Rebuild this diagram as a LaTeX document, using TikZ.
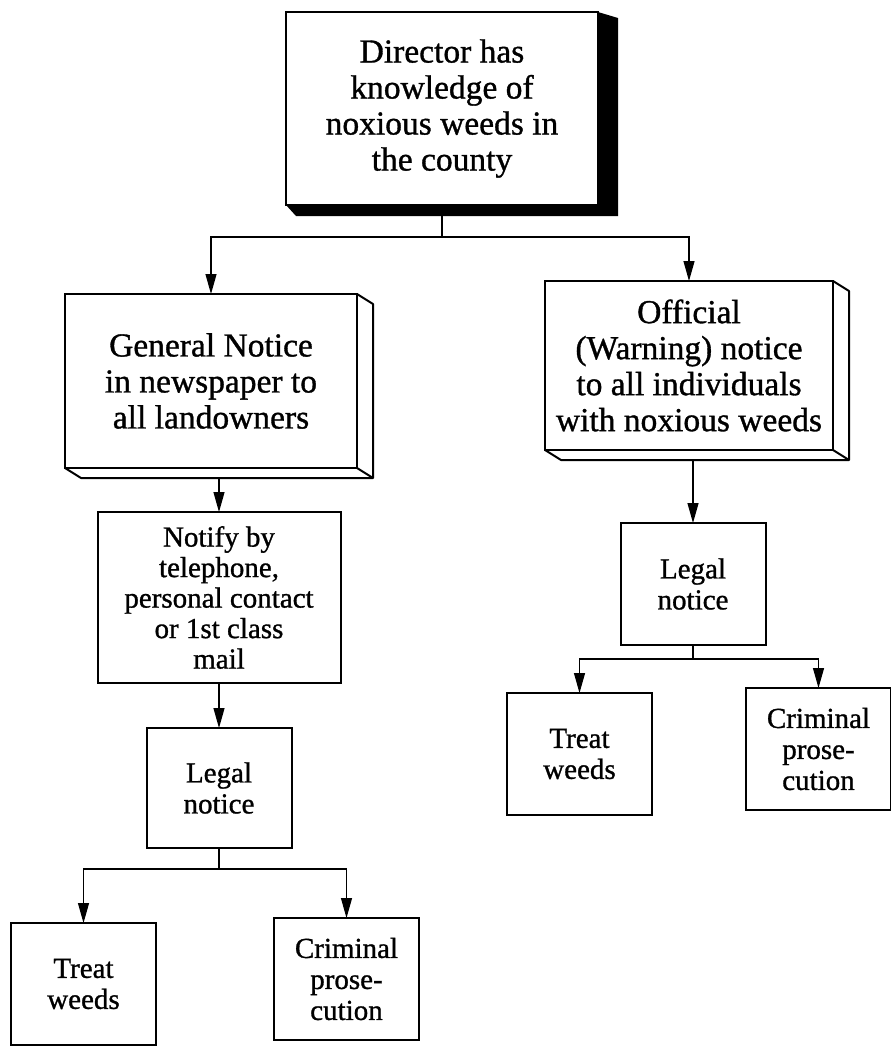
\documentclass[tikz,border=0pt]{standalone}
\usepackage{fontspec}
\setmainfont{Liberation Serif}[FakeBold=1]
\usetikzlibrary{arrows.meta}

\begin{document}
\begin{tikzpicture}[x=1pt,y=1pt,
      every node/.style={draw,line width=2pt,anchor=north,align=center,inner sep=0pt,outer sep=0pt},
      bigbox/.style={font=\fontsize{33.5}{36}\selectfont},
      smallbox/.style={font=\fontsize{29}{31}\selectfont,minimum width=145pt,minimum height=122pt},
      edge from parent/.style={draw,line width=1.2pt,-{Triangle[length=20pt,width=11pt]}},
      level 1/.style={sibling distance=478pt,
        edge from parent path={(\tikzparentnode.south) ++(0,-11pt) -- ++(0,-21pt) -| (\tikzchildnode.north)}},
      level 2/.style={
        edge from parent path={(\tikzchildnode.north |- \tikzparentnode.south) ++(0,-10pt) -- (\tikzchildnode.north)}},
      level 3/.style={sibling distance=239pt,
        edge from parent path={(\tikzparentnode.south) -- ++(0,-14pt) -| (\tikzchildnode.north)}},
      level 4/.style={sibling distance=263pt,
        edge from parent path={(\tikzparentnode.south) -- ++(0,-21pt) -| (\tikzchildnode.north)}}]
      \useasboundingbox (0,0) rectangle (891,-1047);
      \node[bigbox,minimum width=312pt,minimum height=193pt] (dir) at (442,-12)
        {Director has\\knowledge of\\noxious weeds in\\the county}
      child[level distance=185.5pt,xshift=8pt]{
        node[bigbox,minimum width=292pt,minimum height=174pt] (gen)
          {General Notice\\in newspaper to\\all landowners}
        child[level distance=131pt,xshift=8pt]{
          node[font=\fontsize{29}{30.5}\selectfont,minimum width=243pt,minimum height=171pt] (notify)
            {Notify by\\telephone,\\personal contact\\or 1st class\\mail}
          child[level distance=130.5pt]{
            node[smallbox,minimum height=120pt] (legall) {Legal\\notice}
            child[level distance=135pt,xshift=-4pt]{
              node[smallbox] (treatl) {Treat\\weeds}
            }
            child[level distance=130pt,xshift=-4pt]{
              node[smallbox] (criml) {Criminal\\prose-\\cution}
            }
          }
        }
      }
      child[level distance=172.5pt,xshift=8pt]{
        node[bigbox,minimum width=288pt,minimum height=169pt] (off)
          {Official\\(Warning) notice\\to all individuals\\with noxious weeds}
        child[level distance=157.5pt,xshift=4pt]{
          node[smallbox] (legalr) {Legal\\notice}
          child[level distance=109pt,xshift=6pt]{
            node[smallbox] (treatr) {Treat\\weeds}
          }
          child[level distance=104pt,xshift=6pt]{
            node[smallbox] (crimr) {Criminal\\prose-\\cution}
          }
        }
      };
      % black shadow under the top box
      \fill (dir.north east) -- ++(20pt,-6pt) -- ([shift={(20pt,-11pt)}]dir.south east)
        -- ([shift={(10pt,-11pt)}]dir.south west) -- (dir.south west) -- (dir.south east) -- cycle;
      % open sides of the two notice boxes
      \draw[line width=2pt,line join=round] (gen.north east) -- ++(16pt,-10pt)
        -- ([shift={(16pt,-10pt)}]gen.south east) -- ([shift={(16pt,-10pt)}]gen.south west) -- (gen.south west);
      \draw[line width=2pt] (gen.south east) -- ++(16pt,-10pt);
      \draw[line width=2pt,line join=round] (off.north east) -- ++(16pt,-10pt)
        -- ([shift={(16pt,-10pt)}]off.south east) -- ([shift={(16pt,-10pt)}]off.south west) -- (off.south west);
      \draw[line width=2pt] (off.south east) -- ++(16pt,-10pt);
\end{tikzpicture}
\end{document}
